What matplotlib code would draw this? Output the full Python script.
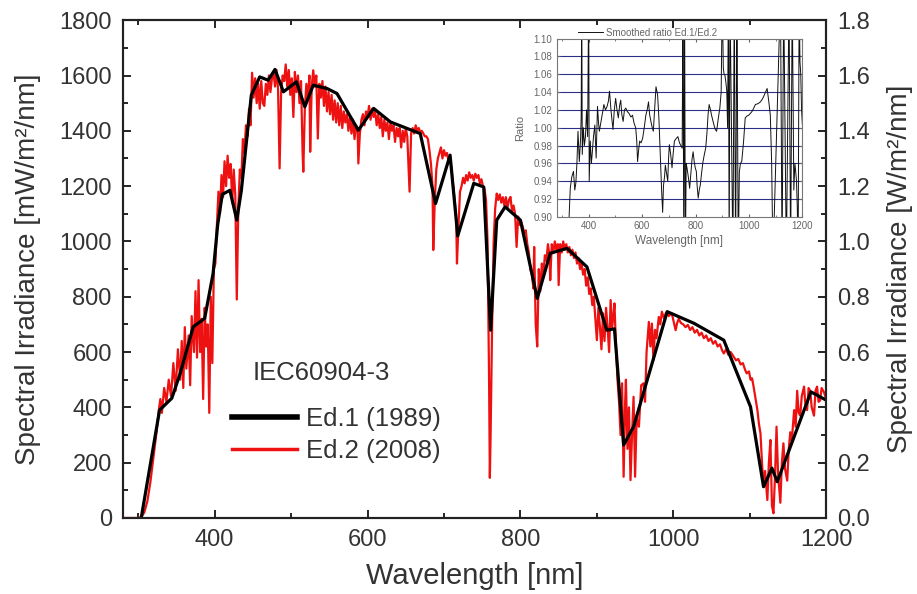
import matplotlib
matplotlib.use("Agg")
import matplotlib.pyplot as plt
from matplotlib.ticker import MultipleLocator, FormatStrFormatter

plt.rcParams["font.family"] = ["Liberation Sans", "DejaVu Sans"]

# ── Data ─────────────────────────────────────────────────
# Ed.1 (1989): coarse reference spectrum, mW/m²/nm
ed1_wl = [304, 328, 344, 355, 372, 387, 398, 404, 410, 420, 429, 435, 448, 459,
          470, 479, 490, 507, 518, 529, 547, 560, 588, 608, 630, 669, 689, 708,
          718, 739, 752, 761, 769, 780, 800, 822, 839, 861, 887, 913, 923, 935,
          948, 992, 1027, 1066, 1101, 1118, 1129, 1136, 1180, 1200]
ed1_val = [0, 390, 433, 523, 691, 722, 884, 1060, 1170, 1185, 1077, 1185, 1529, 1595,
           1583, 1622, 1541, 1577, 1487, 1565, 1553, 1535, 1402, 1481, 1432, 1390, 1137, 1312,
           1020, 1210, 1197, 679, 1077, 1125, 1077, 794, 957, 975, 908, 679, 684, 264,
           330, 746, 704, 643, 402, 113, 180, 131, 456, 426]

# Ed.2 (2008): high resolution spectrum, mW/m²/nm
ed2_wl = [280, 300, 304, 308, 312, 316, 320, 324, 327, 329, 331, 334, 337, 340, 343, 346,
          349, 352, 355, 357, 359, 361, 363, 366, 368, 370, 373, 375, 377, 379, 381, 383,
          385, 387, 389, 391, 393, 395, 397, 399, 401, 403, 405, 407, 409, 411, 413, 415,
          417, 419, 421, 423, 425, 427, 429, 431, 433, 435, 437, 439, 441, 443, 445, 447,
          449, 451, 453, 455, 457, 459, 461, 463, 465, 467, 469, 471, 473, 475, 477, 479,
          481, 483, 485, 487, 489, 491, 493, 495, 497, 499, 501, 503, 505, 507, 509, 511,
          513, 515, 516, 518, 520, 522, 524, 525, 527, 529, 531, 533, 535, 537, 539, 541,
          543, 545, 547, 549, 551, 553, 555, 557, 559, 561, 563, 565, 567, 569, 571, 573,
          575, 577, 579, 581, 583, 585, 587, 588, 590, 592, 594, 596, 598, 600, 602, 604,
          606, 608, 610, 612, 614, 616, 618, 620, 622, 624, 626, 628, 630, 632, 634, 636,
          638, 640, 642, 644, 646, 648, 650, 652, 655, 657, 659, 661, 663, 665, 667, 669,
          671, 673, 675, 677, 679, 681, 683, 685, 686, 688, 690, 692, 694, 696, 698, 700,
          702, 704, 706, 708, 710, 712, 714, 716, 717, 719, 721, 723, 725, 727, 729, 731,
          733, 735, 737, 739, 741, 743, 745, 747, 749, 751, 753, 755, 757, 759, 760, 761,
          763, 765, 767, 769, 771, 773, 775, 777, 779, 781, 783, 785, 787, 789, 791, 793,
          795, 797, 799, 801, 803, 805, 807, 809, 811, 813, 815, 817, 818, 820, 822, 824,
          826, 828, 830, 832, 834, 836, 838, 839, 841, 843, 845, 847, 849, 850, 852, 854,
          856, 858, 860, 862, 864, 866, 868, 870, 872, 874, 876, 878, 880, 882, 884, 886,
          888, 890, 892, 894, 896, 898, 900, 902, 904, 906, 908, 910, 912, 914, 916, 918,
          920, 922, 923, 925, 927, 929, 931, 933, 935, 937, 938, 940, 942, 944, 946, 948,
          950, 952, 955, 958, 961, 963, 965, 968, 970, 972, 974, 976, 978, 981, 983, 985,
          988, 990, 992, 994, 996, 998, 1000, 1003, 1005, 1007, 1010, 1013, 1016, 1019, 1022, 1025,
          1028, 1031, 1034, 1037, 1040, 1043, 1046, 1049, 1052, 1055, 1058, 1061, 1064, 1066, 1069, 1072,
          1075, 1079, 1082, 1085, 1088, 1091, 1094, 1096, 1099, 1101, 1103, 1105, 1107, 1110, 1112, 1114,
          1116, 1118, 1120, 1123, 1125, 1127, 1129, 1131, 1133, 1135, 1137, 1140, 1142, 1144, 1146, 1149,
          1151, 1153, 1155, 1158, 1160, 1162, 1164, 1166, 1168, 1171, 1173, 1175, 1177, 1179, 1181, 1184,
          1186, 1188, 1190, 1192, 1194, 1197, 1200]
ed2_val = [0, 0, 3, 20, 60, 130, 220, 310, 390, 430, 380, 470, 420, 500, 440, 560,
           460, 610, 500, 640, 470, 690, 540, 660, 480, 730, 600, 820, 580, 860, 600, 720,
           430, 760, 620, 700, 380, 800, 560, 900, 920, 1060, 1180, 1100, 1240, 1160, 1290, 1200,
           1310, 1230, 1280, 1140, 1260, 1170, 790, 1120, 1260, 1230, 1370, 1320, 1420, 1380, 1480, 1420,
           1610, 1520, 1590, 1500, 1570, 1480, 1580, 1500, 1490, 1570, 1530, 1600, 1540, 1590, 1610, 1560,
           1620, 1550, 1264, 1540, 1600, 1580, 1640, 1560, 1620, 1530, 1590, 1450, 1613, 1540, 1600, 1500,
           1580, 1330, 1252, 1480, 1570, 1510, 1600, 1324, 1560, 1619, 1560, 1600, 1372, 1570, 1520, 1580,
           1490, 1560, 1470, 1540, 1460, 1530, 1440, 1510, 1430, 1500, 1420, 1490, 1410, 1470, 1430, 1460,
           1400, 1450, 1390, 1440, 1370, 1420, 1400, 1282, 1390, 1440, 1460, 1420, 1470, 1450, 1490, 1440,
           1480, 1450, 1470, 1420, 1460, 1410, 1450, 1380, 1440, 1400, 1430, 1370, 1430, 1400, 1420, 1360,
           1410, 1380, 1410, 1340, 1400, 1360, 1410, 1380, 1180, 1390, 1410, 1390, 1420, 1400, 1410, 1396,
           1400, 1390, 1380, 1380, 1370, 1330, 1280, 1200, 969, 1150, 1260, 1300, 1320, 1340, 1300, 1330,
           1310, 1320, 1290, 1300, 1260, 1200, 1150, 1080, 920, 1060, 1180, 1200, 1230, 1210, 1240, 1220,
           1250, 1230, 1240, 1220, 1245, 1230, 1240, 1210, 1225, 1200, 1190, 1150, 1000, 500, 145, 300,
           700, 1000, 1120, 1173, 1150, 1170, 1140, 1160, 1130, 1160, 1120, 1150, 1161, 1110, 1130, 1100,
           980, 1090, 1060, 1070, 1053, 1030, 1040, 990, 960, 900, 880, 830, 980, 700, 620, 900,
           820, 920, 880, 950, 930, 990, 950, 860, 990, 960, 1000, 970, 990, 842, 990, 960,
           1000, 970, 990, 960, 980, 950, 970, 940, 960, 920, 940, 900, 920, 880, 900, 840,
           870, 810, 830, 770, 800, 720, 643, 760, 690, 610, 740, 640, 760, 690, 600, 788,
           690, 740, 776, 620, 500, 420, 300, 487, 149, 420, 500, 250, 400, 137, 300, 438,
           149, 360, 330, 480, 487, 420, 600, 709, 620, 703, 571, 680, 650, 727, 700, 746,
           720, 740, 746, 730, 735, 740, 715, 679, 705, 720, 705, 700, 690, 698, 680, 690,
           670, 680, 660, 670, 650, 660, 640, 650, 630, 640, 620, 628, 605, 595, 610, 590,
           600, 583, 570, 575, 555, 560, 535, 523, 530, 500, 505, 475, 440, 390, 340, 306,
           200, 113, 170, 65, 200, 282, 45, 17, 150, 330, 160, 55, 200, 270, 180, 135,
           250, 310, 280, 390, 330, 460, 380, 370, 440, 475, 400, 390, 470, 460, 400, 370,
           460, 475, 420, 425, 470, 455, 430]

# Smoothed ratio Ed.1/Ed.2 (inset); values outside 0.90-1.10 leave the frame
ratio_wl = [324, 331, 337, 343, 348, 352, 356, 360, 365, 370, 372, 374, 376, 380, 384, 388,
            392, 396, 400, 402, 406, 410, 413, 418, 423, 428, 433, 437, 440, 445, 450, 457,
            463, 469, 474, 478, 484, 491, 496, 501, 506, 511, 516, 520, 524, 529, 534, 539,
            545, 551, 558, 564, 570, 576, 580, 583, 587, 591, 596, 602, 608, 614, 619, 624,
            628, 633, 638, 642, 647, 652, 658, 663, 668, 673, 677, 680, 684, 687, 691, 696,
            699, 702, 707, 712, 716, 721, 728, 734, 740, 745, 750, 753, 756, 759, 762, 765,
            768, 772, 775, 778, 783, 787, 791, 795, 799, 803, 806, 810, 814, 818, 823, 828,
            833, 838, 843, 847, 851, 856, 860, 865, 869, 874, 879, 885, 891, 896, 900, 904,
            907, 910, 914, 917, 920, 923, 926, 929, 940, 945, 950, 955, 960, 964, 968, 973,
            977, 980, 986, 992, 999, 1005, 1011, 1018, 1024, 1034, 1043, 1050, 1055, 1062, 1068, 1074,
            1080, 1085, 1090, 1118, 1124, 1130, 1140, 1150, 1156, 1162, 1168, 1172, 1175, 1178, 1181, 1184,
            1188, 1191, 1194, 1197, 1200]
ratio_val = [0.880, 0.932, 0.945, 0.951, 0.930, 0.938, 0.960, 0.996, 0.962, 0.990, 1.014, 1.150, 0.970, 1.000, 0.980, 0.990,
             1.020, 0.990, 1.150, 0.940, 0.985, 0.960, 0.970, 0.990, 1.003, 0.966, 1.024, 1.005, 0.996, 1.005, 1.014, 1.026,
             1.020, 1.024, 1.030, 1.041, 1.018, 0.998, 1.020, 1.033, 1.020, 1.011, 1.025, 1.031, 1.015, 1.007, 1.020, 1.022,
             1.018, 1.016, 1.012, 1.014, 1.005, 1.000, 0.985, 0.962, 0.975, 0.985, 0.983, 0.988, 1.000, 1.014, 1.020, 1.029,
             1.015, 1.007, 1.000, 0.996, 1.020, 1.046, 1.037, 1.010, 0.970, 0.930, 0.905, 0.935, 0.945, 0.958, 0.950, 0.940,
             0.965, 0.981, 0.970, 0.955, 0.970, 0.985, 0.988, 0.990, 0.983, 0.980, 0.977, 1.150, 0.850, 1.150, 0.850, 0.960,
             0.955, 0.947, 0.940, 0.932, 0.950, 0.965, 0.973, 0.962, 0.955, 0.951, 0.935, 0.921, 0.930, 0.936, 0.950, 0.962,
             0.970, 0.977, 0.995, 1.015, 1.026, 1.020, 1.014, 1.008, 1.003, 0.998, 0.996, 1.010, 1.022, 1.040, 1.150, 1.067,
             1.060, 1.059, 1.050, 1.041, 1.000, 1.150, 0.850, 1.150, 0.850, 1.150, 0.850, 1.150, 0.850, 0.950, 0.960, 0.962,
             0.975, 0.985, 1.011, 1.013, 1.014, 1.016, 1.018, 1.022, 1.026, 1.027, 1.029, 1.032, 1.035, 1.040, 1.044, 1.030,
             1.014, 0.960, 0.850, 1.150, 0.850, 1.150, 0.850, 1.150, 0.850, 1.150, 0.930, 0.960, 0.951, 0.940, 0.910, 0.850,
             1.150, 1.074, 1.060, 1.020, 1.003]

TXT = "#333333"
GREY = "#666666"

# ── Main figure ──────────────────────────────────────────
fig = plt.figure(figsize=(9.17, 5.94), dpi=100)
ax = fig.add_axes([0.134, 0.128, 0.767, 0.838])

ax.plot(ed2_wl, ed2_val, color="#ee1111", lw=1.6, label="Ed.2 (2008)", zorder=2.6)
ax.plot(ed1_wl, ed1_val, color="black", lw=2.3, label="Ed.1 (1989)", zorder=3)

ax.set_xlim(280, 1200)
ax.set_ylim(0, 1800)
ax.xaxis.set_major_locator(MultipleLocator(200))
ax.xaxis.set_minor_locator(MultipleLocator(100))
ax.yaxis.set_major_locator(MultipleLocator(200))
ax.yaxis.set_minor_locator(MultipleLocator(100))
ax.tick_params(which="both", direction="in", top=True, right=False,
               labelsize=17, labelcolor=TXT, width=1.2, pad=8)
ax.tick_params(which="major", length=6)
ax.tick_params(which="minor", length=3.5)
for s in ax.spines.values():
    s.set_linewidth(1.5)
    s.set_color("#222222")

ax.set_xlabel("Wavelength [nm]", fontsize=21, color=TXT, labelpad=8)
ax.set_ylabel("Spectral Irradiance [mW/m²/nm]", fontsize=20, color=TXT, labelpad=13)

# right axis in W/m²/nm
ax2 = ax.twinx()
ax2.set_ylim(0, 1.8)
ax2.yaxis.set_major_locator(MultipleLocator(0.2))
ax2.yaxis.set_minor_locator(MultipleLocator(0.1))
ax2.yaxis.set_major_formatter(FormatStrFormatter("%.1f"))
ax2.tick_params(which="both", direction="in", labelsize=17, labelcolor=TXT, width=1.2, pad=8)
ax2.tick_params(which="major", length=6)
ax2.tick_params(which="minor", length=3.5)
ax2.set_ylabel("Spectral Irradiance [W/m²/nm]", fontsize=20, color=TXT, labelpad=12)
for s in ax2.spines.values():
    s.set_linewidth(1.5)
    s.set_color("#222222")

# legend: entries plus a separate heading
handles, labels = ax.get_legend_handles_labels()
leg = ax.legend(handles[::-1], labels[::-1], loc="center left",
                bbox_to_anchor=(0.155, 0.166), frameon=False, fontsize=18.5,
                handlelength=2.55, handletextpad=0.35, labelspacing=0.32,
                borderpad=0, borderaxespad=0)
for t in leg.get_texts():
    t.set_color(TXT)
leg.legend_handles[0].set_linewidth(4)
leg.legend_handles[1].set_linewidth(2.5)
ax.text(0.185, 0.291, "IEC60904-3", transform=ax.transAxes, fontsize=18.5,
        color=TXT, ha="left", va="center")

# ── Inset: ratio ─────────────────────────────────────────
ax_in = fig.add_axes([0.607, 0.635, 0.268, 0.300])
ax_in.set_facecolor("white")
for yv in [0.92, 0.94, 0.96, 0.98, 1.00, 1.02, 1.04, 1.06, 1.08]:
    ax_in.axhline(yv, color="#2a2f8a", lw=0.8, zorder=1)
ax_in.plot(ratio_wl, ratio_val, color="#111111", lw=0.7, zorder=2,
           label="Smoothed ratio Ed.1/Ed.2")
ax_in.set_xlim(280, 1200)
ax_in.set_ylim(0.90, 1.10)
ax_in.xaxis.set_major_locator(MultipleLocator(200))
ax_in.xaxis.set_minor_locator(MultipleLocator(100))
ax_in.yaxis.set_major_locator(MultipleLocator(0.02))
ax_in.yaxis.set_major_formatter(FormatStrFormatter("%.2f"))
ax_in.tick_params(which="both", direction="in", top=True, right=True,
                  labelsize=7, labelcolor=GREY, color=GREY, pad=3)
ax_in.tick_params(which="major", length=2.5)
ax_in.tick_params(which="minor", length=1.5)
for s in ax_in.spines.values():
    s.set_linewidth(0.8)
    s.set_color("#777777")
ax_in.set_xlabel("Wavelength [nm]", fontsize=8.5, color=GREY, labelpad=3)
ax_in.set_ylabel("Ratio", fontsize=8, color=GREY, labelpad=6)
leg_in = ax_in.legend(loc="center left", bbox_to_anchor=(0.085, 1.034), frameon=False,
                      fontsize=7, handlelength=2.6, handletextpad=0.3,
                      borderpad=0, borderaxespad=0)
for t in leg_in.get_texts():
    t.set_color(GREY)

fig.savefig("out.png", dpi=100)
